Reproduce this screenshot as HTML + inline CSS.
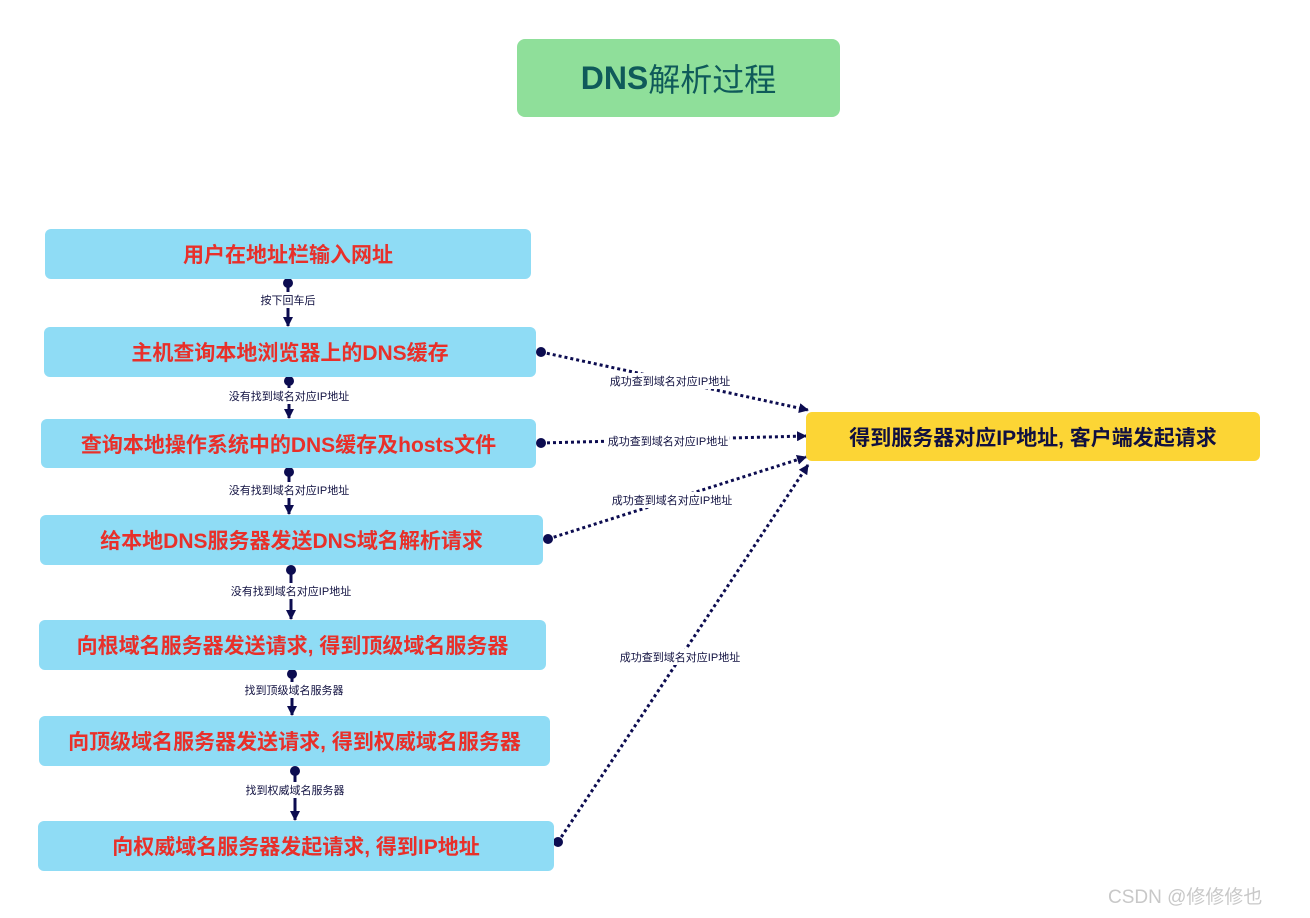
<!DOCTYPE html>
<html><head><meta charset="utf-8"><style>
body{margin:0;width:1310px;height:918px;background:#fff;position:relative;overflow:hidden;font-family:"Liberation Sans","Noto Sans CJK SC",sans-serif}
.b{position:absolute;background:#8fdcf5;border-radius:6px;color:#e8302a;font-weight:bold;font-size:21px;display:flex;align-items:center;justify-content:center;white-space:nowrap}
.l{position:absolute;font-size:11px;color:#101040;background:#fff;white-space:nowrap;transform:translate(-50%,-50%);padding:0 2px}
</style></head><body>
<div class="b" style="left:517px;top:39px;width:323px;height:78px;background:#8fdf9a;color:#0f5a5a;font-size:32px;border-radius:8px;font-weight:bold">DNS<span style="font-weight:normal">解析过程</span></div>
<svg width="1310" height="918" style="position:absolute;left:0;top:0">
<defs><marker id="a" markerWidth="10" markerHeight="10" refX="9" refY="5" orient="auto" markerUnits="userSpaceOnUse"><path d="M0,0L10,5L0,10z" fill="#0c0c50"/></marker></defs>
<g fill="#0c0c50">
<circle cx="288" cy="283" r="5"/><circle cx="289" cy="381" r="5"/><circle cx="289" cy="472" r="5"/><circle cx="291" cy="570" r="5"/><circle cx="292" cy="674" r="5"/><circle cx="295" cy="771" r="5"/>
<circle cx="541" cy="352" r="5"/><circle cx="541" cy="443" r="5"/><circle cx="548" cy="539" r="5"/><circle cx="558" cy="842" r="5"/>
</g>
<g stroke="#0c0c50" stroke-width="3" fill="none" marker-end="url(#a)">
<path d="M288 283V326"/><path d="M289 381V418"/><path d="M289 472V514"/><path d="M291 570V619"/><path d="M292 674V715"/><path d="M295 771V820"/>
</g>
<g stroke="#0c0c50" stroke-width="3" fill="none" stroke-dasharray="3 3" marker-end="url(#a)">
<path d="M541 352L808 410"/><path d="M541 443L806 436"/><path d="M548 539L806 457"/><path d="M558 842L808 465"/>
</g>
</svg>
<div class="b" style="left:45px;top:229px;width:486px;height:50px">用户在地址栏输入网址</div>
<div class="b" style="left:44px;top:327px;width:492px;height:50px">主机查询本地浏览器上的DNS缓存</div>
<div class="b" style="left:41px;top:419px;width:495px;height:49px">查询本地操作系统中的DNS缓存及hosts文件</div>
<div class="b" style="left:40px;top:515px;width:503px;height:50px">给本地DNS服务器发送DNS域名解析请求</div>
<div class="b" style="left:39px;top:620px;width:507px;height:50px">向根域名服务器发送请求, 得到顶级域名服务器</div>
<div class="b" style="left:39px;top:716px;width:511px;height:50px">向顶级域名服务器发送请求, 得到权威域名服务器</div>
<div class="b" style="left:38px;top:821px;width:516px;height:50px">向权威域名服务器发起请求, 得到IP地址</div>
<div class="b" style="left:806px;top:412px;width:454px;height:49px;background:#fcd535;color:#101040">得到服务器对应IP地址, 客户端发起请求</div>
<div class="l" style="left:288px;top:300px">按下回车后</div>
<div class="l" style="left:289px;top:396px">没有找到域名对应IP地址</div>
<div class="l" style="left:289px;top:490px">没有找到域名对应IP地址</div>
<div class="l" style="left:291px;top:591px">没有找到域名对应IP地址</div>
<div class="l" style="left:294px;top:690px">找到顶级域名服务器</div>
<div class="l" style="left:295px;top:790px">找到权威域名服务器</div>
<div class="l" style="left:670px;top:381px">成功查到域名对应IP地址</div>
<div class="l" style="left:668px;top:441px">成功查到域名对应IP地址</div>
<div class="l" style="left:672px;top:500px">成功查到域名对应IP地址</div>
<div class="l" style="left:680px;top:657px">成功查到域名对应IP地址</div>
<div style="position:absolute;left:1108px;top:882px;font-size:19px;color:#c8c8c8">CSDN @修修修也</div>
</body></html>
